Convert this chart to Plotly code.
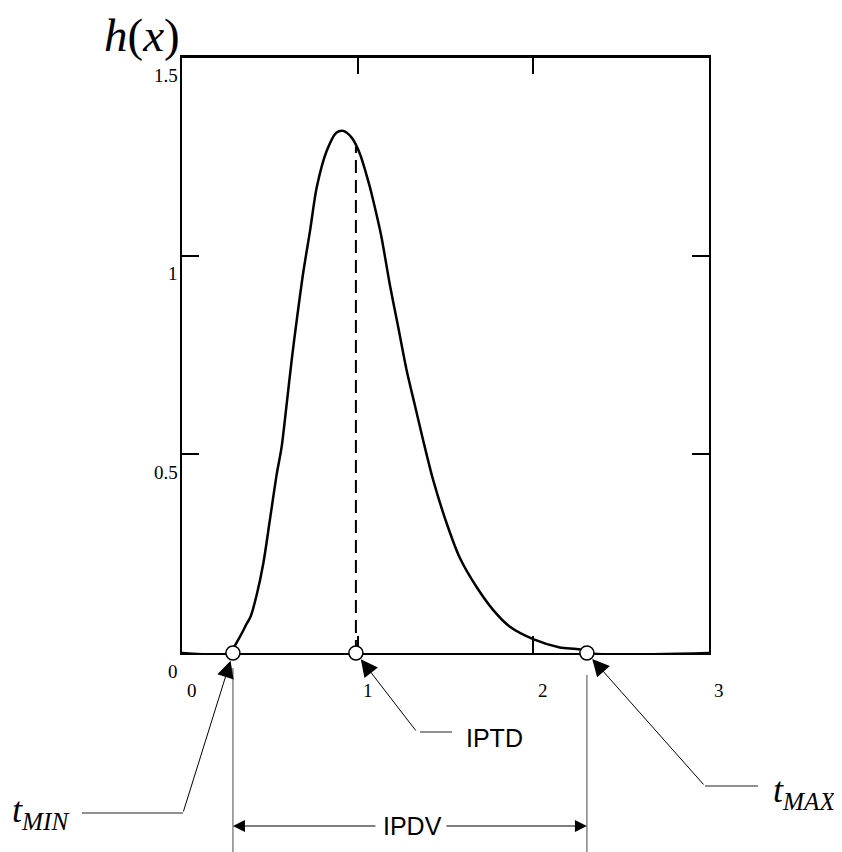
import plotly.graph_objects as go

# ---------------- data ----------------
x_vals = [0.0, 0.27, 0.30, 0.33, 0.37, 0.39, 0.425, 0.463, 0.50, 0.54, 0.567, 0.596,
          0.624, 0.653, 0.69, 0.729, 0.767, 0.824, 0.88, 0.918, 0.966, 1.013, 1.07,
          1.089, 1.134, 1.184, 1.231, 1.279, 1.326, 1.373, 1.43, 1.507, 1.582, 1.677,
          1.772, 1.867, 1.999, 2.151, 2.265, 2.305, 3.0]
h_vals = [0.0, 0.0, 0.018, 0.041, 0.075, 0.091, 0.146, 0.226, 0.334, 0.452, 0.518, 0.627,
          0.736, 0.837, 0.957, 1.063, 1.172, 1.264, 1.310, 1.314, 1.297, 1.256, 1.172,
          1.138, 1.050, 0.925, 0.820, 0.711, 0.623, 0.535, 0.435, 0.326, 0.239, 0.166,
          0.108, 0.066, 0.035, 0.014, 0.009, 0.0, 0.0]

t_min = 0.29
iptd = 0.99
h_iptd = 1.275
t_max = 2.305

x_ticks = [0, 1, 2, 3]
x_tick_labels = ["0", "1", "2", "3"]
y_ticks = [0, 0.5, 1, 1.5]
y_tick_labels = ["0", "0.5", "1", "1.5"]
x_range = [0, 3]
y_range = [0, 1.5]

# ---------------- layout geometry ----------------
# screen pixels of the plot box; the page body adds an 8px offset
OFF = 8
WIN_W, WIN_H = 842, 852
W, H = WIN_W - OFF, WIN_H - OFF
L, R, T, B = 182, 709, 57, 653


def pp(px, py):
    """screen pixel position -> paper coordinates"""
    return (px - L) / (R - L), (B - py) / (B - T)


def xp(v):
    """data x -> paper x"""
    return (v - x_range[0]) / (x_range[1] - x_range[0])


SERIF = "Liberation Serif, Times New Roman, serif"
SANS = "Liberation Sans, Arial, sans-serif"
LINE_C = "#222222"
GRAY_C = "#666666"

fig = go.Figure()

fig.add_trace(go.Scatter(
    x=x_vals, y=h_vals, mode="lines",
    line=dict(color="black", width=2.5, shape="spline", smoothing=0.8), cliponaxis=False,
    hoverinfo="skip", showlegend=False))

fig.add_trace(go.Scatter(
    x=[iptd, iptd], y=[0, h_iptd], mode="lines",
    line=dict(color="black", width=2, dash="13px,7px"),
    hoverinfo="skip", showlegend=False))

fig.add_trace(go.Scatter(
    x=[t_min, iptd, t_max], y=[0, 0, 0], mode="markers",
    marker=dict(size=14, color="white", line=dict(color="black", width=1.5)),
    cliponaxis=False, hoverinfo="skip", showlegend=False))

axis_common = dict(showgrid=False, zeroline=False, showline=True, linecolor="black",
                   ticks="inside", ticklen=17, tickwidth=1.5, tickcolor="black",
                   mirror="allticks", showticklabels=False, layer="below traces",
                   fixedrange=True)

fig.update_xaxes(range=x_range, tickvals=x_ticks, linewidth=1.5, **axis_common)
fig.update_yaxes(range=y_range, tickvals=y_ticks, linewidth=2, **axis_common)

shapes = []
# top border a bit heavier
shapes.append(dict(type="line", xref="paper", yref="paper", x0=0, x1=1, y0=1, y1=1,
                   line=dict(color="black", width=2)))
# IPDV vertical extension lines
for v, ytop in [(t_min, 668), (t_max, 675)]:
    _, y0 = pp(0, ytop)
    _, y1 = pp(0, WIN_H + 4)
    shapes.append(dict(type="line", xref="paper", yref="paper", x0=xp(v), x1=xp(v),
                       y0=y0, y1=y1, line=dict(color=GRAY_C, width=1.2)))
# leader horizontal segments
for (ax0, ay0), (ax1, ay1) in [((82, 813), (183, 813)),
                               ((420, 732), (452, 732)),
                               ((705, 786), (758, 786))]:
    a = pp(ax0, ay0)
    b = pp(ax1, ay1)
    shapes.append(dict(type="line", xref="paper", yref="paper", x0=a[0], y0=a[1],
                       x1=b[0], y1=b[1], line=dict(color=LINE_C, width=1)))

annotations = []
# tick labels
for v, t in zip(x_ticks, x_tick_labels):
    annotations.append(dict(x=v, y=0, xref="x", yref="paper", text=t, showarrow=False,
                            xanchor="center", yanchor="middle", xshift=10, yshift=-37,
                            font=dict(family=SERIF, size=19, color="black")))
for v, t in zip(y_ticks, y_tick_labels):
    annotations.append(dict(x=0, y=v, xref="paper", yref="y", text=t, showarrow=False,
                            xanchor="right", yanchor="middle", xshift=-2, yshift=-18,
                            font=dict(family=SERIF, size=19, color="black")))
# axis title h(x), kept fully inside the figure
tx, ty = pp(142, OFF)
annotations.append(dict(x=tx, y=ty, xref="paper", yref="paper",
                        text="<i>h</i>(<i>x</i>)", showarrow=False,
                        xanchor="center", yanchor="top", borderpad=0,
                        font=dict(family=SERIF, size=47, color="black")))
# labels
for label, (lx, ly), fam, size in [("<i>t</i><sub><i>MIN</i></sub>", (40, 812), SERIF, 36),
                                   ("<i>t</i><sub><i>MAX</i></sub>", (804, 792), SERIF, 36),
                                   ("IPTD", (494, 738), SANS, 25),
                                   ("IPDV", (412, 826), SANS, 25)]:
    a = pp(lx, ly)
    annotations.append(dict(x=a[0], y=a[1], xref="paper", yref="paper", text=label,
                            showarrow=False, xanchor="center", yanchor="middle",
                            font=dict(family=fam, size=size, color="black")))
# pointer arrows to the three marked points
for v, axp, ayp in [(t_min, -50, 160), (iptd, 61, 79), (t_max, 118, 133)]:
    annotations.append(dict(x=v, y=0, xref="x", yref="y", text="", showarrow=True,
                            ax=axp, ay=ayp, arrowhead=2, arrowsize=3.4, arrowwidth=1,
                            arrowcolor="black", standoff=8))
# IPDV dimension arrows
_, ydim = pp(0, 826)
for v, axp in [(t_min, 144), (t_max, -142)]:
    annotations.append(dict(x=v, y=ydim, xref="x", yref="paper", text="", showarrow=True,
                            ax=axp, ay=0, arrowhead=2, arrowsize=2.4, arrowwidth=1,
                            arrowcolor="black", standoff=0))

fig.update_layout(width=W, height=H,
                  margin=dict(l=L - OFF, r=W - (R - OFF), t=T - OFF, b=H - (B - OFF)),
                  paper_bgcolor="white", plot_bgcolor="white",
                  shapes=shapes, annotations=annotations, showlegend=False)

fig.write_html("out.html")
